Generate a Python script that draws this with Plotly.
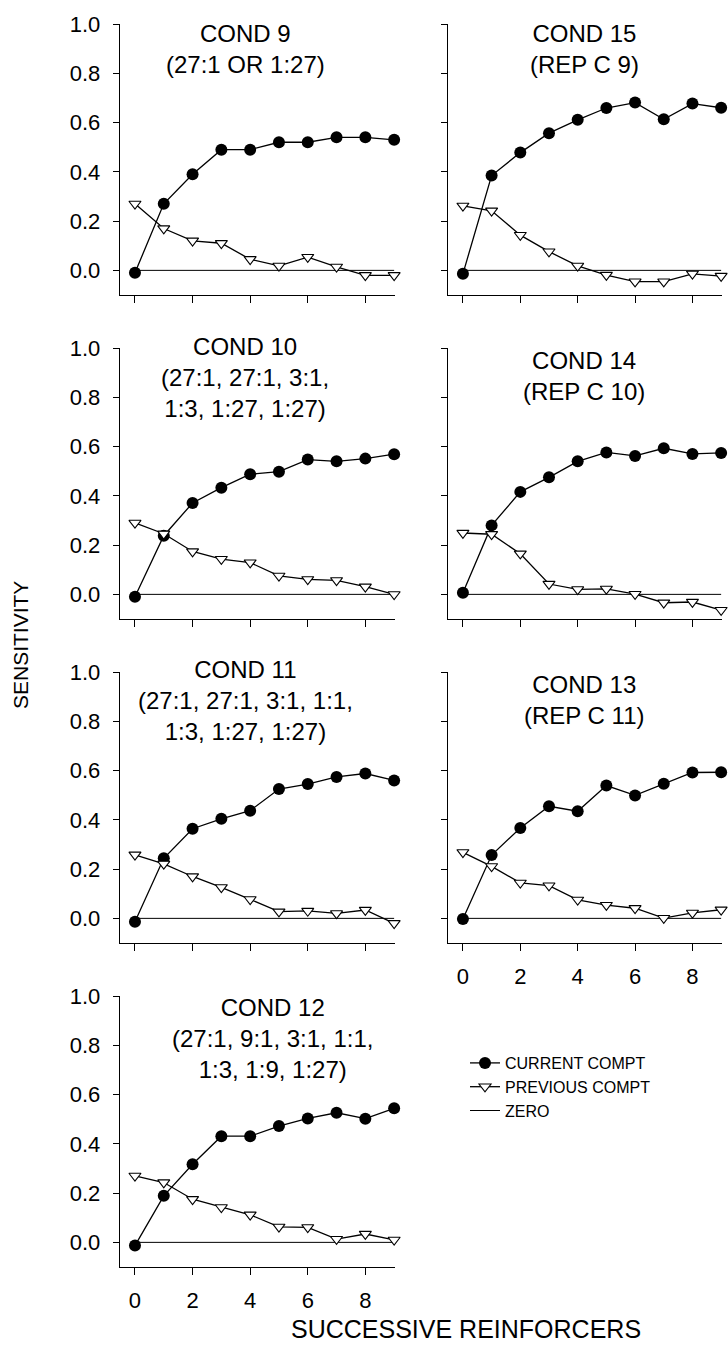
import plotly.graph_objects as go

# ---------------- data ----------------
X = [0, 1, 2, 3, 4, 5, 6, 7, 8, 9]
ZERO = [0.0, 0.0, 0.0, 0.0, 0.0, 0.0, 0.0, 0.0, 0.0, 0.0]

COND9_CUR = [-0.01, 0.27, 0.39, 0.49, 0.49, 0.52, 0.52, 0.54, 0.54, 0.53]
COND9_PREV = [0.27, 0.17, 0.12, 0.11, 0.045, 0.018, 0.054, 0.014, -0.02, -0.02]

COND15_CUR = [-0.014, 0.385, 0.478, 0.557, 0.611, 0.659, 0.681, 0.613, 0.677, 0.66]
COND15_PREV = [0.262, 0.242, 0.143, 0.076, 0.018, -0.019, -0.046, -0.046, -0.014, -0.023]

COND10_CUR = [-0.01, 0.238, 0.371, 0.433, 0.488, 0.498, 0.547, 0.54, 0.551, 0.569]
COND10_PREV = [0.29, 0.246, 0.174, 0.143, 0.129, 0.075, 0.061, 0.057, 0.031, 0.0]

COND14_CUR = [0.007, 0.28, 0.416, 0.475, 0.54, 0.576, 0.562, 0.593, 0.57, 0.574]
COND14_PREV = [0.249, 0.244, 0.165, 0.042, 0.02, 0.022, 0.001, -0.034, -0.031, -0.064]

COND11_CUR = [-0.014, 0.244, 0.364, 0.404, 0.437, 0.525, 0.545, 0.574, 0.588, 0.56]
COND11_PREV = [0.258, 0.221, 0.17, 0.126, 0.077, 0.027, 0.03, 0.02, 0.034, -0.02]

COND13_CUR = [-0.003, 0.257, 0.367, 0.455, 0.435, 0.539, 0.499, 0.546, 0.592, 0.593]
COND13_PREV = [0.268, 0.211, 0.144, 0.133, 0.075, 0.054, 0.041, 0.001, 0.022, 0.035]

COND12_CUR = [-0.013, 0.189, 0.317, 0.431, 0.431, 0.472, 0.503, 0.526, 0.502, 0.544]
COND12_PREV = [0.27, 0.243, 0.175, 0.142, 0.112, 0.063, 0.061, 0.013, 0.034, 0.01]

Y_TICKS = [0.0, 0.2, 0.4, 0.6, 0.8, 1.0]
Y_TICK_LABELS = ["0.0", "0.2", "0.4", "0.6", "0.8", "1.0"]
X_TICKS = [0, 2, 4, 6, 8]
X_TICK_LABELS = ["0", "2", "4", "6", "8"]

SERIES_NAMES = ["CURRENT COMPT", "PREVIOUS COMPT", "ZERO"]

# ---------------- layout config ----------------
W, H = 728, 1350
FONT = "Liberation Sans, Arial, Helvetica, sans-serif"

COL_PX = [(120, 395), (448, 722)]
ROW_TOP_PX = [24, 348, 672, 996]
ROW_H_PX = 271

PANELS = [
    dict(lines=["COND 9", "(27:1 OR 1:27)"], cur=COND9_CUR, prev=COND9_PREV,
         row=0, col=0, tx=245, ty=49, xlabels=False),
    dict(lines=["COND 15", "(REP C 9)"], cur=COND15_CUR, prev=COND15_PREV,
         row=0, col=1, tx=584, ty=49.5, xlabels=False),
    dict(lines=["COND 10", "(27:1, 27:1, 3:1,", "1:3, 1:27, 1:27)"], cur=COND10_CUR, prev=COND10_PREV,
         row=1, col=0, tx=245, ty=377, xlabels=False),
    dict(lines=["COND 14", "(REP C 10)"], cur=COND14_CUR, prev=COND14_PREV,
         row=1, col=1, tx=584, ty=375.5, xlabels=False),
    dict(lines=["COND 11", "(27:1, 27:1, 3:1, 1:1,", "1:3, 1:27, 1:27)"], cur=COND11_CUR, prev=COND11_PREV,
         row=2, col=0, tx=245, ty=700, xlabels=False),
    dict(lines=["COND 13", "(REP C 11)"], cur=COND13_CUR, prev=COND13_PREV,
         row=2, col=1, tx=584, ty=700, xlabels=True),
    dict(lines=["COND 12", "(27:1, 9:1, 3:1, 1:1,", "1:3, 1:9, 1:27)"], cur=COND12_CUR, prev=COND12_PREV,
         row=3, col=0, tx=272, ty=1038, xlabels=True),
]


def px_x(p):
    return p / W


def px_y(p):
    return 1 - p / H


fig = go.Figure()
layout = dict(
    width=W, height=H,
    margin=dict(l=0, r=0, t=0, b=0, autoexpand=False),
    paper_bgcolor="white", plot_bgcolor="white",
    font=dict(family=FONT, color="black"),
    showlegend=True,
    legend=dict(
        x=px_x(465), y=px_y(1046), xanchor="left", yanchor="top",
        font=dict(family=FONT, size=16, color="black"),
        bgcolor="rgba(0,0,0,0)", borderwidth=0, tracegroupgap=0,
        itemclick=False, itemdoubleclick=False,
    ),
    annotations=[],
)

for i, p in enumerate(PANELS):
    n = i + 1
    xa = "x" if n == 1 else f"x{n}"
    ya = "y" if n == 1 else f"y{n}"
    first = (i == 0)

    # zero line
    fig.add_trace(go.Scatter(
        x=X, y=ZERO, mode="lines", name=SERIES_NAMES[2],
        line=dict(color="black", width=1), xaxis=xa, yaxis=ya,
        showlegend=first, legendrank=3, cliponaxis=False, hoverinfo="skip",
    ))
    # current component
    fig.add_trace(go.Scatter(
        x=X, y=p["cur"], mode="lines+markers", name=SERIES_NAMES[0],
        line=dict(color="black", width=1.3),
        marker=dict(symbol="circle", size=12, color="black", line=dict(width=0)),
        xaxis=xa, yaxis=ya, showlegend=first, legendrank=1, cliponaxis=False,
    ))
    # previous component
    fig.add_trace(go.Scatter(
        x=X, y=p["prev"], mode="lines+markers", name=SERIES_NAMES[1],
        line=dict(color="black", width=1.3),
        marker=dict(symbol="triangle-down", size=10.5, color="white",
                    line=dict(color="black", width=1.1)),
        xaxis=xa, yaxis=ya, showlegend=first, legendrank=2, cliponaxis=False,
    ))

    x0, x1 = COL_PX[p["col"]]
    top = ROW_TOP_PX[p["row"]]
    bot = top + ROW_H_PX
    xkey = "xaxis" if n == 1 else f"xaxis{n}"
    ykey = "yaxis" if n == 1 else f"yaxis{n}"
    layout[xkey] = dict(
        domain=[px_x(x0), px_x(x1)], anchor=ya, range=[-0.52, 9.03],
        showgrid=False, zeroline=False, showline=True, linecolor="black", linewidth=1.3,
        ticks="outside", ticklen=7, tickwidth=1, tickcolor="black",
        tickvals=X_TICKS, ticktext=X_TICK_LABELS, showticklabels=p["xlabels"],
        tickfont=dict(family=FONT, size=22, color="black"), ticklabelstandoff=6,
        fixedrange=True,
    )
    layout[ykey] = dict(
        domain=[px_y(bot), px_y(top)], anchor=xa, range=[-0.1, 1.0],
        showgrid=False, zeroline=False, showline=True, linecolor="black", linewidth=1.3,
        ticks="outside", ticklen=6, tickwidth=1, tickcolor="black",
        tickvals=Y_TICKS, ticktext=Y_TICK_LABELS, showticklabels=(p["col"] == 0),
        tickfont=dict(family=FONT, size=22, color="black"), ticklabelstandoff=8,
        fixedrange=True,
    )
    layout["annotations"].append(dict(
        text="<br>".join(p["lines"]), xref="paper", yref="paper",
        x=px_x(p["tx"]), y=px_y(p["ty"]), align="center",
        xanchor="center", yanchor="middle", showarrow=False,
        font=dict(family=FONT, size=24, color="black"),
    ))

# axis titles
layout["annotations"].append(dict(
    text="SENSITIVITY", xref="paper", yref="paper", x=px_x(20), y=px_y(645),
    xanchor="center", yanchor="middle", textangle=-90, showarrow=False,
    font=dict(family=FONT, size=21, color="black"),
))
layout["annotations"].append(dict(
    text="SUCCESSIVE REINFORCERS", xref="paper", yref="paper", x=px_x(466), y=px_y(1329),
    xanchor="center", yanchor="middle", showarrow=False,
    font=dict(family=FONT, size=25, color="black"),
))

fig.update_layout(**layout)
fig.write_html(
    "out.html",
    config={"displayModeBar": False, "staticPlot": True},
    post_script="document.body.style.margin='0';document.body.style.overflow='hidden';",
)
